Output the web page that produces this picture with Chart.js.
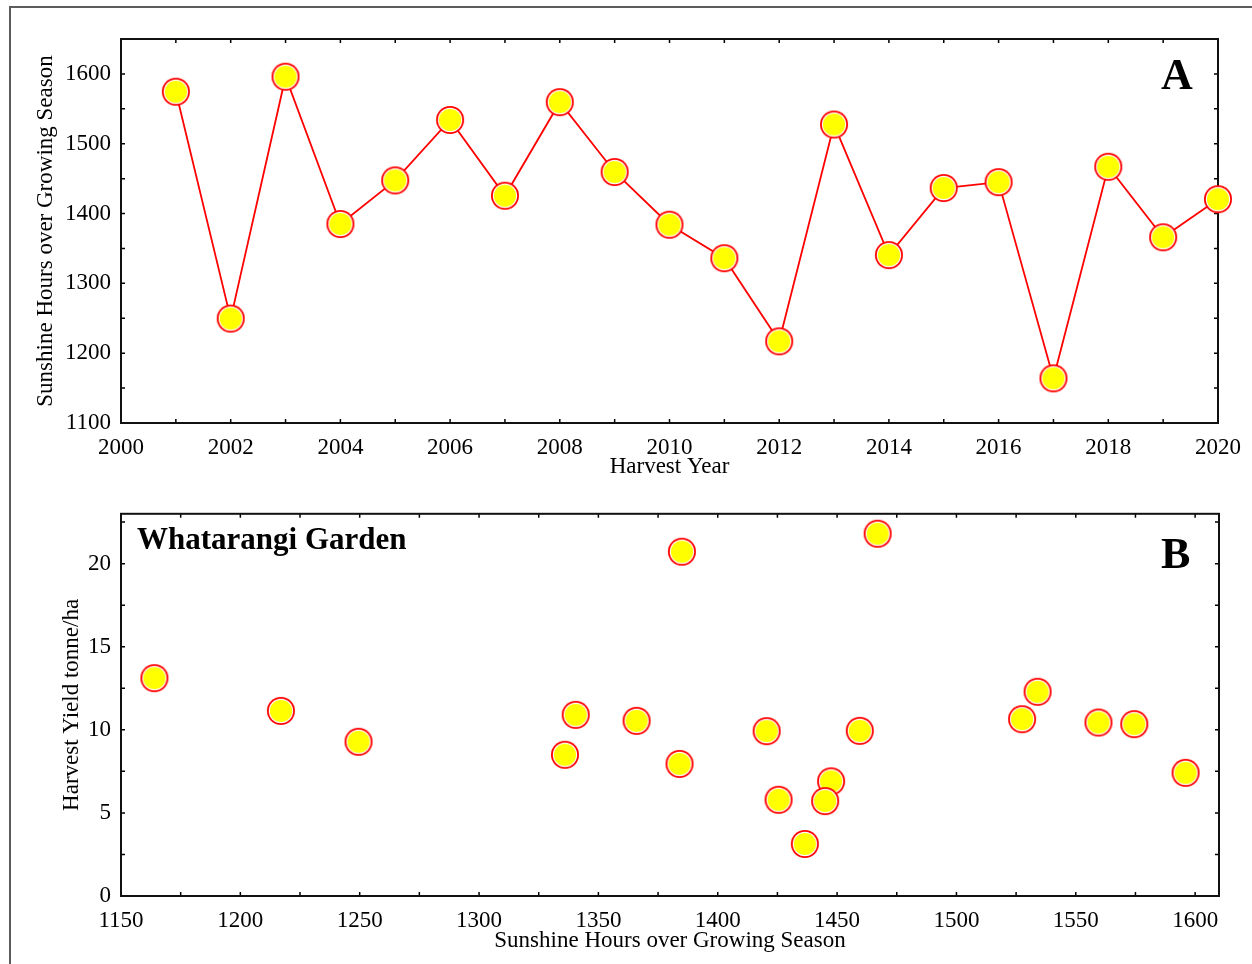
<!DOCTYPE html>
<html>
<head>
<meta charset="utf-8">
<title>Whatarangi Garden – sunshine hours and harvest yield</title>
<script src="https://cdn.jsdelivr.net/npm/chart.js@4.4.1/dist/chart.umd.min.js"></script>
<style>
  html, body { margin: 0; padding: 0; background: #fff; overflow: hidden; }
  body { width: 1252px; height: 964px; position: relative; }
  #frame { position: absolute; left: 9px; top: 6px; width: 1400px; height: 1100px;
           border-left: 2px solid #5c5c5c; border-top: 2px solid #5c5c5c; }
  .panel { position: absolute; left: 0; width: 1252px; }
  #panelA { top: 0; height: 490px; }
  #panelB { top: 490px; height: 474px; }
  canvas { display: block; }
</style>
</head>
<body>
<div id="frame"></div>
<div class="panel" id="panelA"><canvas id="chartA" width="1252" height="490"></canvas></div>
<div class="panel" id="panelB"><canvas id="chartB" width="1252" height="474"></canvas></div>
<script>
// Harvest years
const years = [2001, 2002, 2003, 2004, 2005, 2006, 2007, 2008, 2009, 2010,
               2011, 2012, 2013, 2014, 2015, 2016, 2017, 2018, 2019, 2020];

// Sunshine hours over the growing season, per harvest year
const sunshineHours = [1574.5, 1249.5, 1596, 1385, 1447.5, 1534, 1425.5, 1559.5, 1459.5, 1384,
                       1336, 1217, 1527.5, 1340.5, 1436.5, 1445, 1164, 1467, 1366, 1420.5];

// Harvest yield (tonne/ha), per harvest year
const harvestYield = [10.34, 9.28, 7.41, 20.72, 6.90, 12.29, 5.79, 10.44, 9.94, 7.95,
                      8.50, 11.14, 10.64, 10.90, 3.13, 5.71, 13.11, 21.80, 10.54, 9.92];

// Axis ranges and tick spacing
const yearAxis = { min: 2000, max: 2020, step: 2, minor: 1 };
const sunAxisA = { min: 1100, max: 1650, step: 100, minor: 50 };
const sunAxisB = { min: 1150, max: 1610, step: 50, minor: 25 };
const yieldAxis = { min: 0, max: 23, step: 5, minor: 2.5 };

const SERIF = "'Liberation Serif', 'Times New Roman', Times, serif";
const TICK_FONT = { family: SERIF, size: 23 };

// Yellow marker with a white ring and red outline
function makeMarker() {
  const c = document.createElement('canvas');
  c.width = 30; c.height = 30;
  const g = c.getContext('2d');
  const ring = (r, col) => { g.fillStyle = col; g.beginPath(); g.arc(15, 15, r, 0, Math.PI * 2); g.fill(); };
  ring(14, '#ff0000');
  ring(12.2, '#ffffff');
  ring(11.1, '#ffff00');
  return c;
}
const marker = makeMarker();

// Box around the plot area with inward ticks on all four sides
const boxedAxes = {
  id: 'boxedAxes',
  beforeDatasetsDraw(chart, args, o) {
    const { ctx, chartArea: a, scales: { x, y } } = chart;
    const L = 4;
    ctx.save();
    ctx.strokeStyle = '#000';
    ctx.lineWidth = 1.5;
    ctx.beginPath();
    for (let i = 0; ; i++) {
      const v = x.min + i * o.xStep;
      if (v > x.max + 1e-6) break;
      const p = x.getPixelForValue(v);
      ctx.moveTo(p, a.bottom); ctx.lineTo(p, a.bottom - L);
      ctx.moveTo(p, a.top); ctx.lineTo(p, a.top + L);
    }
    for (let i = 0; ; i++) {
      const v = y.min + i * o.yStep;
      if (v > y.max + 1e-6) break;
      const p = y.getPixelForValue(v);
      ctx.moveTo(a.left, p); ctx.lineTo(a.left + L, p);
      ctx.moveTo(a.right, p); ctx.lineTo(a.right - L, p);
    }
    ctx.stroke();
    ctx.lineWidth = 2;
    ctx.strokeStyle = '#111';
    ctx.strokeRect(a.left, a.top, a.right - a.left, a.bottom - a.top);
    ctx.restore();
  }
};

// Panel letters and in-plot captions
const panelText = {
  id: 'panelText',
  afterDraw(chart, args, o) {
    const { ctx } = chart;
    ctx.save();
    ctx.fillStyle = '#000';
    ctx.textBaseline = 'alphabetic';
    ctx.textAlign = 'left';
    (o.items || []).forEach(t => {
      ctx.font = `bold ${t.size}px ${SERIF}`;
      ctx.fillText(t.text, t.x, t.y);
    });
    ctx.restore();
  }
};

function axis(range, pad, opts) {
  return Object.assign({
    type: 'linear',
    min: range.min,
    max: range.max,
    grid: { display: false, drawTicks: false },
    border: { display: false },
    ticks: {
      stepSize: range.step,
      includeBounds: false,
      autoSkip: false,
      maxRotation: 0,
      padding: pad,
      color: '#000',
      font: TICK_FONT,
      callback: v => String(v)
    }
  }, opts);
}

function titleOpts(text, padding) {
  return { display: true, text, color: '#000', font: { family: SERIF, size: 23 }, padding };
}

// Panel A: sunshine hours by harvest year
new Chart(document.getElementById('chartA'), {
  type: 'line',
  data: {
    datasets: [{
      data: years.map((yr, i) => ({ x: yr, y: sunshineHours[i] })),
      borderColor: '#ff0000',
      borderWidth: 1.8,
      pointStyle: marker,
      pointRadius: 14,
      tension: 0,
      fill: false,
      clip: false
    }]
  },
  options: {
    responsive: false,
    animation: false,
    events: [],
    layout: { padding: { left: 0, right: 33, top: 39, bottom: 0 } },
    plugins: {
      legend: { display: false },
      tooltip: { enabled: false },
      boxedAxes: { xStep: yearAxis.minor, yStep: sunAxisA.minor },
      panelText: { items: [{ text: 'A', x: 1161, y: 89, size: 44 }] }
    },
    scales: {
      x: axis(yearAxis, 11, {
        title: titleOpts('Harvest Year', { top: 0, bottom: 9 }),
        afterFit: s => { s.height = 67; }
      }),
      y: axis(sunAxisA, 10, {
        title: titleOpts('Sunshine Hours over Growing Season', { top: 32, bottom: 0 }),
        afterFit: s => { s.width = 121; }
      })
    }
  },
  plugins: [boxedAxes, panelText]
});

// Panel B: harvest yield against sunshine hours
new Chart(document.getElementById('chartB'), {
  type: 'scatter',
  data: {
    datasets: [{
      data: years.map((yr, i) => ({ x: sunshineHours[i], y: harvestYield[i] })),
      pointStyle: marker,
      pointRadius: 14,
      showLine: false,
      clip: false
    }]
  },
  options: {
    responsive: false,
    animation: false,
    events: [],
    layout: { padding: { left: 0, right: 33, top: 22, bottom: 0 } },
    plugins: {
      legend: { display: false },
      tooltip: { enabled: false },
      boxedAxes: { xStep: sunAxisB.minor, yStep: yieldAxis.minor },
      panelText: { items: [
        { text: 'Whatarangi Garden', x: 137, y: 59, size: 31 },
        { text: 'B', x: 1161, y: 78, size: 44 }
      ] }
    },
    scales: {
      x: axis(sunAxisB, 11, {
        title: titleOpts('Sunshine Hours over Growing Season', { top: 0, bottom: 9 }),
        afterFit: s => { s.height = 68; }
      }),
      y: axis(yieldAxis, 10, {
        title: titleOpts('Harvest Yield tonne/ha', { top: 58, bottom: 0 }),
        afterFit: s => { s.width = 121; }
      })
    }
  },
  plugins: [boxedAxes, panelText]
});
</script>
</body>
</html>
